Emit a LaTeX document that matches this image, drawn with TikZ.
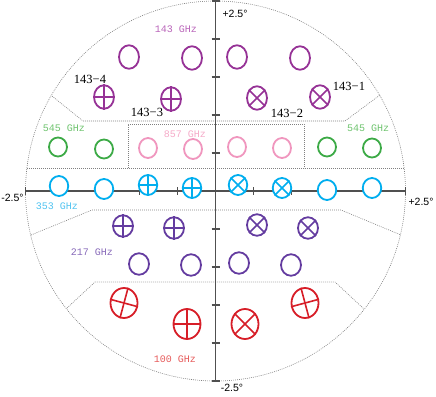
\documentclass[tikz,border=0pt]{standalone}
\usepackage{fontspec}
\setmainfont{Liberation Serif}
\setsansfont{Liberation Sans}
\setmonofont{Liberation Mono}
\usepackage{tikz}
\usetikzlibrary{shapes.geometric}
\definecolor{c143}{RGB}{150,50,150}
\definecolor{t143}{RGB}{185,100,185}
\definecolor{c545}{RGB}{60,170,70}
\definecolor{t545}{RGB}{110,195,110}
\definecolor{c857}{RGB}{240,150,190}
\definecolor{t857}{RGB}{245,170,200}
\definecolor{c353}{RGB}{0,174,239}
\definecolor{t353}{RGB}{80,195,240}
\definecolor{c217}{RGB}{100,60,160}
\definecolor{t217}{RGB}{135,105,185}
\definecolor{c100}{RGB}{215,30,40}
\definecolor{t100}{RGB}{230,90,90}
\definecolor{axisgray}{RGB}{80,80,80}

\begin{document}
\begin{tikzpicture}[x=1pt, y=-1pt, every node/.style={inner sep=0pt},
  det/.style={ellipse, fill=white, line width=1.8pt},
  d143/.style={det, draw=c143, minimum width=20pt, minimum height=23.5pt},
  d545/.style={det, draw=c545, minimum width=18pt, minimum height=19pt},
  d857/.style={det, draw=c857, minimum width=18pt, minimum height=20pt},
  d353/.style={det, draw=c353, minimum width=18.5pt, minimum height=20pt},
  d217/.style={det, draw=c217, minimum width=20pt, minimum height=21.5pt},
  d100/.style={det, draw=c100, minimum width=27pt, minimum height=30pt},
  bar/.style={line width=1.6pt},
  bars/.style n args={5}{append after command={(\tikzlastnode.#1) edge[bar,#5] (\tikzlastnode.#2)
    (\tikzlastnode.#3) edge[bar,#5] (\tikzlastnode.#4)}},
  plus/.style={bars={90}{270}{0}{180}{#1}},
  cross/.style={bars={45}{225}{135}{315}{#1}},
  zone/.style={gray, line width=0.6pt, dash pattern=on 0.9pt off 1.1pt},
  axis/.style={axisgray, line width=1.3pt},
  deg/.style={font=\sffamily\fontsize{10.5}{12}\selectfont},
  bolo/.style={font=\fontsize{12.5}{14}\selectfont},
  band/.style={font=\ttfamily\fontsize{10}{12}\selectfont}]
\useasboundingbox (0,0) rectangle (436,396);

\draw[zone] (215.5,191) circle [radius=190];
\draw[zone] (52,96) -- (83,121) -- (345,121) -- (380,95);
\draw[zone] (27,168) -- (404,168);
\draw[zone] (128,168) -- (128,124) -- (304,124) -- (304,168);
\draw[zone] (31,235) -- (92,210) -- (341,210) -- (401,235);
\draw[zone] (67,308) -- (95,282) -- (335,282) -- (364,309);

\draw[axis] (25.5,191) -- (405.5,191);
\draw[axis] (215.5,1) -- (215.5,381);
\foreach \k in {-5,...,5}{
  \draw[axis] (215.5+38*\k,187) -- (215.5+38*\k,195);
  \draw[axis] (211.5,191+38*\k) -- (219.5,191+38*\k);
}

\node[deg] (ytop) at (235,14) {+2.5°};
\node[deg] (xleft) at (12.5,198) {-2.5°};
\node[deg] (xright) at (421,202) {+2.5°};
\node[deg] (ybot) at (232,388) {-2.5°};

\node[d143] (p1) at (129,57) {};
\node[d143] (p2) at (192,58) {};
\node[d143] (p3) at (237,57) {};
\node[d143] (p4) at (300,58) {};
\node[d143, plus=c143] (b4) at (104,97) {};
\node[d143, plus=c143] (b3) at (171,99) {};
\node[d143, cross=c143] (b2) at (257,98) {};
\node[d143, cross=c143] (b1) at (320,97) {};

\node[d545] (g1) at (58,147) {};
\node[d545] (g2) at (104,149) {};
\node[d545] (g3) at (327,147) {};
\node[d545] (g4) at (372,148) {};

\node[d857] (k1) at (148,148) {};
\node[d857] (k2) at (193,149) {};
\node[d857] (k3) at (237,147) {};
\node[d857] (k4) at (282,148) {};

\node[d353] (s1) at (59,186) {};
\node[d353] (s2) at (104,189) {};
\node[d353, plus=c353] (s3) at (148,185) {};
\node[d353, plus=c353] (s4) at (192,188) {};
\node[d353, cross=c353] (s5) at (238,185) {};
\node[d353, cross=c353] (s6) at (282,188) {};
\node[d353] (s7) at (327,190) {};
\node[d353] (s8) at (372,188) {};

\node[d217, plus=c217] (v1) at (123,226) {};
\node[d217, plus=c217] (v2) at (174,228) {};
\node[d217, cross=c217] (v3) at (257,225) {};
\node[d217, cross=c217] (v4) at (308,228) {};
\node[d217] (v5) at (139,264) {};
\node[d217] (v6) at (191,265) {};
\node[d217] (v7) at (239,263) {};
\node[d217] (v8) at (291,265) {};

\node[d100, bars={75}{255}{345}{165}{c100}] (r1) at (124,303) {};
\node[d100, plus=c100] (r2) at (187,324) {};
\node[d100, cross=c100] (r3) at (245,324) {};
\node[d100, bars={105}{285}{15}{195}{c100}] (r4) at (305,303) {};

\node[bolo] (l4) at (90,79) {143−4};
\node[bolo] (l3) at (147,112) {143−3};
\node[bolo] (l2) at (287,113) {143−2};
\node[bolo] (l1) at (349,86) {143−1};

\node[band, t143] (n143) at (176,29) {143 GHz};
\node[band, t545] (n545a) at (64,128) {545 GHz};
\node[band, t545] (n545b) at (368,128) {545 GHz};
\node[band, t857] (n857) at (185,134) {857 GHz};
\node[band, t353] (n353) at (57,206) {353 GHz};
\node[band, t217] (n217) at (92,252) {217 GHz};
\node[band, t100] (n100) at (175,359) {100 GHz};
\end{tikzpicture}
\end{document}
